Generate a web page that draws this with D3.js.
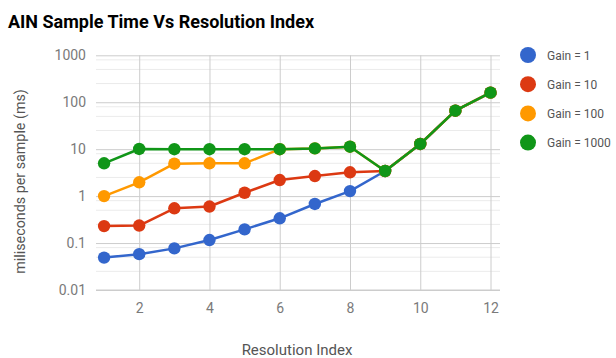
<!DOCTYPE html>
<html>
<head>
<meta charset="utf-8">
<script src="https://cdn.jsdelivr.net/npm/d3@7/dist/d3.min.js"></script>
<style>
  html, body { margin: 0; padding: 0; background: #fff; }
  svg { display: block; font-family: Roboto, "Noto Sans", sans-serif; }
</style>
</head>
<body>
<svg id="chart" width="616" height="358"></svg>
<script>
// Resolution index on the x axis
const resolutionIndex = [1, 2, 3, 4, 5, 6, 7, 8, 9, 10, 11, 12];

// Sample time in milliseconds for each gain setting
const gain1    = [0.049, 0.058, 0.077, 0.116, 0.196, 0.337, 0.68, 1.28, 3.43, 12.9, 66, 160];
const gain10   = [0.23, 0.236, 0.55, 0.6, 1.18, 2.2, 2.68, 3.22, 3.43, 12.9, 66, 160];
const gain100  = [1.0, 1.97, 4.9, 5.0, 5.0, 10.0, 10.4, 11.3, 3.43, 12.9, 66, 160];
const gain1000 = [5.0, 10.1, 10.0, 10.0, 10.0, 10.0, 10.4, 11.3, 3.43, 12.9, 66, 160];

const seriesNames  = ["Gain = 1", "Gain = 10", "Gain = 100", "Gain = 1000"];
const seriesColors = ["#3366cc", "#dc3912", "#ff9900", "#109618"];

const xTicks = [2, 4, 6, 8, 10, 12];
const yTicks = [0.01, 0.1, 1, 10, 100, 1000];
const yTickLabels = ["0.01", "0.1", "1", "10", "100", "1000"];
const minorSteps = [2.5, 5, 8];

const series = [gain1, gain10, gain100, gain1000].map((vals, i) => ({
  name: seriesNames[i],
  color: seriesColors[i],
  points: vals.map((v, j) => ({ x: resolutionIndex[j], y: v }))
}));

const svg = d3.select("#chart");
const plot = { left: 96, right: 500, top: 55.3, bottom: 290 };

const x = d3.scaleLinear().domain([0.77, 12.27]).range([plot.left, plot.right]);
const y = d3.scaleLog().domain([0.01, 1000]).range([plot.bottom, plot.top]);

// Minor horizontal gridlines inside each decade
const minorVals = [];
for (let d = 0; d < yTicks.length - 1; d++) {
  minorSteps.forEach(m => minorVals.push(yTicks[d] * m));
}
svg.append("g")
  .selectAll("line")
  .data(minorVals)
  .join("line")
  .attr("x1", plot.left).attr("x2", plot.right)
  .attr("y1", d => y(d)).attr("y2", d => y(d))
  .attr("stroke", "#ebebeb").attr("stroke-width", 1);

// Major horizontal gridlines and y tick labels
const yAxis = svg.append("g")
  .attr("transform", `translate(${plot.left},0)`)
  .call(d3.axisLeft(y)
    .tickValues(yTicks)
    .tickFormat((d, i) => yTickLabels[i])
    .tickSize(-(plot.right - plot.left))
    .tickPadding(10));
yAxis.select(".domain").remove();
yAxis.selectAll(".tick line")
  .attr("stroke", "#cccccc")
  .attr("stroke-width", 1);
yAxis.selectAll(".tick text")
  .attr("fill", "#7a7a7a")
  .style("font-size", "14px")
  .style("font-family", "Roboto, sans-serif");

// Vertical gridlines and x tick labels
const xAxis = svg.append("g")
  .attr("transform", `translate(0,${plot.bottom})`)
  .call(d3.axisBottom(x)
    .tickValues(xTicks)
    .tickFormat(d3.format("d"))
    .tickSize(-(plot.bottom - plot.top))
    .tickPadding(13));
xAxis.select(".domain").remove();
xAxis.selectAll(".tick line").attr("stroke", "#cccccc").attr("stroke-width", 1);
xAxis.selectAll(".tick text")
  .attr("fill", "#7a7a7a")
  .style("font-size", "14px")
  .style("font-family", "Roboto, sans-serif");

// Baseline redrawn on top of the vertical gridlines
svg.append("line")
  .attr("x1", plot.left).attr("x2", plot.right)
  .attr("y1", y(0.01)).attr("y2", y(0.01))
  .attr("stroke", "#cccccc").attr("stroke-width", 1);

// Series lines and points
const line = d3.line().x(d => x(d.x)).y(d => y(d.y));
const gSeries = svg.append("g")
  .selectAll("g")
  .data(series)
  .join("g");
gSeries.append("path")
  .attr("d", d => line(d.points))
  .attr("fill", "none")
  .attr("stroke", d => d.color)
  .attr("stroke-width", 2.5)
  .attr("stroke-linejoin", "round");
gSeries.each(function (s) {
  d3.select(this).selectAll("circle")
    .data(s.points)
    .join("circle")
    .attr("cx", d => x(d.x))
    .attr("cy", d => y(d.y))
    .attr("r", 6.2)
    .attr("fill", s.color);
});

// Title
svg.append("text")
  .attr("x", 8).attr("y", 27.5)
  .attr("fill", "#000")
  .style("font-size", "18px")
  .style("font-weight", "bold")
  .style("font-family", "Roboto, sans-serif")
  .text("AIN Sample Time Vs Resolution Index");

// Axis titles
svg.append("text")
  .attr("x", (plot.left + plot.right) / 2 - 1)
  .attr("y", 354.5)
  .attr("text-anchor", "middle")
  .attr("fill", "#555")
  .style("font-size", "15px")
  .text("Resolution Index");

svg.append("text")
  .attr("transform", "translate(25,181.5) rotate(-90)")
  .attr("text-anchor", "middle")
  .attr("fill", "#555")
  .style("font-size", "14.3px")
  .text("miliseconds per sample (ms)");

// Legend
const legend = svg.append("g")
  .selectAll("g")
  .data(series)
  .join("g")
  .attr("transform", (d, i) => `translate(528,${55 + i * 29.2})`);
legend.append("circle")
  .attr("r", 8)
  .attr("fill", d => d.color);
legend.append("text")
  .attr("x", 19)
  .attr("y", 4.5)
  .attr("fill", "#555")
  .style("font-size", "12px")
  .text(d => d.name);
</script>
</body>
</html>
